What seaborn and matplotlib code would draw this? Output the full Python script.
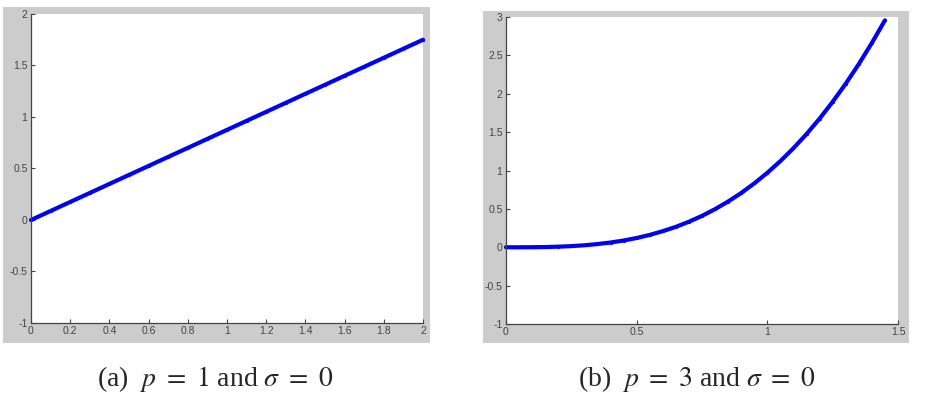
import matplotlib
matplotlib.use("Agg")
import matplotlib.pyplot as plt
from matplotlib.patches import Rectangle
import seaborn as sns

# ── Data ───────────────────────────────────────────────────────────────────────
X_A = [0.0, 0.1, 0.2, 0.3, 0.4, 0.5, 0.6, 0.7, 0.8, 0.9, 1.0,
       1.1, 1.2, 1.3, 1.4, 1.5, 1.6, 1.7, 1.8, 1.9, 2.0]
Y_A = [0.0, 0.0875, 0.175, 0.2625, 0.35, 0.4375, 0.525, 0.6125, 0.7, 0.7875, 0.875,
       0.9625, 1.05, 1.1375, 1.225, 1.3125, 1.4, 1.4875, 1.575, 1.6625, 1.75]

X_B = [0.0, 0.05, 0.1, 0.15, 0.2, 0.25, 0.3, 0.35, 0.4, 0.45, 0.5, 0.55, 0.6, 0.65, 0.7,
       0.75, 0.8, 0.85, 0.9, 0.95, 1.0, 1.05, 1.1, 1.15, 1.2, 1.25, 1.3, 1.35, 1.4, 1.45]
Y_B = [0.0, 0.0, 0.001, 0.003, 0.008, 0.015, 0.026, 0.042, 0.062, 0.088, 0.121, 0.161,
       0.21, 0.266, 0.333, 0.409, 0.497, 0.596, 0.707, 0.832, 0.97, 1.123, 1.291, 1.475,
       1.676, 1.895, 2.131, 2.387, 2.662, 2.957]

TICKS_A_X = [0, 0.2, 0.4, 0.6, 0.8, 1, 1.2, 1.4, 1.6, 1.8, 2]
LABELS_A_X = ["0", "0.2", "0.4", "0.6", "0.8", "1", "1.2", "1.4", "1.6", "1.8", "2"]
TICKS_A_Y = [-1, -0.5, 0, 0.5, 1, 1.5, 2]
LABELS_A_Y = ["-1", "-0.5", "0", "0.5", "1", "1.5", "2"]

TICKS_B_X = [0, 0.5, 1, 1.5]
LABELS_B_X = ["0", "0.5", "1", "1.5"]
TICKS_B_Y = [-1, -0.5, 0, 0.5, 1, 1.5, 2, 2.5, 3]
LABELS_B_Y = ["-1", "-0.5", "0", "0.5", "1", "1.5", "2", "2.5", "3"]

CAPTIONS = [r"(a)  $p\ =\ 1$ and $\sigma\ =\ 0$", r"(b)  $p\ =\ 3$ and $\sigma\ =\ 0$"]

# ── Style ─────────────────────────────────────────────────────────────────────
sns.set_style("white")
plt.rcParams["font.family"] = ["Liberation Sans", "DejaVu Sans"]
plt.rcParams["mathtext.fontset"] = "stix"

BLUE = "#0000ff"
FRAME = "#cccccc"
AXIS_C = "#444444"

fig = plt.figure(figsize=(9.25, 3.95), dpi=100, facecolor="white")

# grey MATLAB-style figure frames (behind the axes)
fig.patches.append(Rectangle((0.0032, 0.1316), 0.4616, 0.8506, transform=fig.transFigure,
                             facecolor=FRAME, edgecolor="none", zorder=-5))
fig.patches.append(Rectangle((0.5222, 0.1316), 0.4605, 0.8405, transform=fig.transFigure,
                             facecolor=FRAME, edgecolor="none", zorder=-5))

ax_a = fig.add_axes([0.0335, 0.1823, 0.4238, 0.7823])
ax_b = fig.add_axes([0.547, 0.1797, 0.4238, 0.7772])

panels = [
    (ax_a, X_A, Y_A, (0, 2), (-1, 2), TICKS_A_X, LABELS_A_X, TICKS_A_Y, LABELS_A_Y),
    (ax_b, X_B, Y_B, (0, 1.5), (-1, 3), TICKS_B_X, LABELS_B_X, TICKS_B_Y, LABELS_B_Y),
]

for ax, xs, ys, xlim, ylim, xt, xl, yt, yl in panels:
    ax.set_facecolor("white")
    sns.lineplot(x=xs, y=ys, ax=ax, color=BLUE, linewidth=3.0, marker=".",
                 markersize=3, markeredgecolor=BLUE, sort=False, clip_on=False)
    ax.set_xlim(*xlim)
    ax.set_ylim(*ylim)
    ax.set_xticks(xt)
    ax.set_xticklabels(xl)
    ax.set_yticks(yt)
    ax.set_yticklabels(yl)
    ax.tick_params(direction="in", length=3, width=0.8, colors=AXIS_C,
                   labelsize=7.5, pad=2.5, bottom=True, left=True)
    for side in ["top", "right"]:
        ax.spines[side].set_visible(False)
    for side in ["left", "bottom"]:
        ax.spines[side].set_color(AXIS_C)
        ax.spines[side].set_linewidth(0.9)

for cx, cap in zip([0.2325, 0.753], CAPTIONS):
    fig.text(cx, 0.04, cap, ha="center", va="center", fontsize=20,
             family=["Liberation Serif", "DejaVu Serif"])

fig.savefig("out.png", dpi=100)
